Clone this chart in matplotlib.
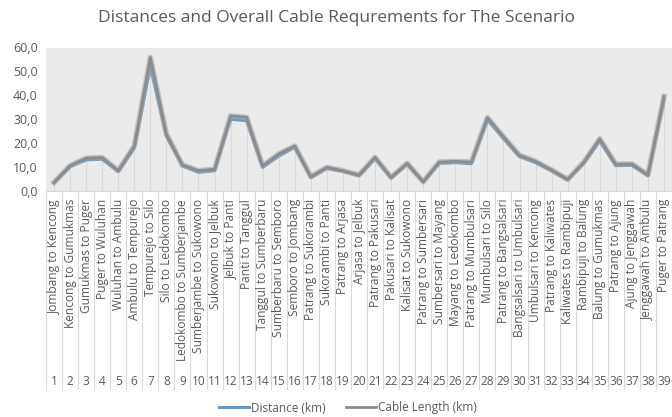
import numpy as np
import matplotlib
matplotlib.use('Agg')
import matplotlib.pyplot as plt
from matplotlib.ticker import FuncFormatter

plt.rcParams['font.family'] = ['Open Sans', 'DejaVu Sans']

routes = [
    "Jombang to Kencong", "Kencong to Gumukmas", "Gumukmas to Puger", "Puger to Wuluhan",
    "Wuluhan to Ambulu", "Ambulu to Tempurejo", "Tempurejo to Silo", "Silo to Ledokombo",
    "Ledokombo to Sumberjambe", "Sumberjambe to Sukowono", "Sukowono to Jelbuk",
    "Jelbuk to Panti", "Panti to Tanggul", "Tanggul to Sumberbaru", "Sumberbaru to Semboro",
    "Semboro to Jombang", "Patrang to Sukorambi", "Sukorambi to Panti", "Patrang to Arjasa",
    "Arjasa to Jelbuk", "Patrang to Pakusari", "Pakusari to Kalisat", "Kalisat to Sukowono",
    "Patrang to Sumbersari", "Sumbersari to Mayang", "Mayang to Ledokombo",
    "Patrang to Mumbulsari", "Mumbulsari to Silo", "Patrang to Bangsalsari",
    "Bangsalsari to Umbulsari", "Umbulsari to Kencong", "Patrang to Kaliwates",
    "Kaliwates to Rambipuji", "Rambipuji to Balung", "Balung to Gumukmas",
    "Patrang to Ajung", "Ajung to Jenggawah", "Jenggawah to Ambulu", "Puger to Patrang",
]
numbers = list(range(1, 40))

distance = [3.4, 10.2, 13.0, 13.3, 8.2, 17.9, 52.0, 23.0, 10.5, 7.8, 8.5, 30.0, 29.4,
            9.9, 14.6, 18.3, 5.6, 9.5, 8.2, 6.4, 13.5, 5.4, 11.2, 3.7, 11.6, 11.9, 11.4,
            29.7, 21.9, 14.4, 11.9, 8.4, 4.6, 11.6, 20.9, 10.6, 10.7, 6.4, 38.1]
cable = [3.6, 10.6, 13.7, 14.0, 8.5, 18.8, 55.8, 23.8, 10.9, 8.5, 9.1, 31.4, 30.8,
         10.5, 15.5, 18.8, 6.0, 9.9, 8.5, 6.7, 14.1, 5.7, 11.6, 3.9, 12.1, 12.4, 12.1,
         30.7, 22.7, 14.9, 12.4, 8.8, 4.9, 12.0, 21.8, 11.2, 11.3, 6.8, 39.5]

W, H = 672, 417
fig = plt.figure(figsize=(W / 100, H / 100), dpi=100)
left, right, top, bottom = 46, 672, 47.5, 191
ax = fig.add_axes([left / W, 1 - bottom / H, (right - left) / W, (bottom - top) / H])

x = np.arange(len(routes))
ax.set_xlim(-0.5, len(routes) - 0.5)
ax.set_ylim(0, 60)

# plot area: light gradient, white at the top
grad = np.linspace(0.925, 1.0, 256)
grad[-int(256 * 0.18):] = 1.0
img = np.dstack([grad, grad, grad])[:, :1, :].repeat(2, axis=1)
ax.imshow(img, extent=[0, 1, 0, 1], transform=ax.transAxes,
          aspect='auto', origin='lower', zorder=0)

ax.vlines(x, 0, cable, color='#d9d9d9', lw=0.8, zorder=1)
ax.plot(x, distance, color='#5b9bd5', lw=2.2, zorder=3, solid_joinstyle='round')
ax.plot(x, cable, color='#a5a5a5', lw=4.0, alpha=0.6, zorder=4, solid_joinstyle='round')
ax.plot(x, cable, color='#8c8c8c', lw=2.0, zorder=5, solid_joinstyle='round')

for s in ['top', 'right', 'left']:
    ax.spines[s].set_visible(False)
ax.spines['bottom'].set_color('#d9d9d9')
ax.set_xticks([])
ax.set_yticks(np.arange(0, 61, 10))
ax.yaxis.set_major_formatter(FuncFormatter(lambda v, p: f"{v:.1f}".replace('.', ',')))
ax.tick_params(axis='y', length=0, labelsize=9, labelcolor='#595959', pad=6)

# two-level category axis
trans = ax.get_xaxis_transform()
ah = bottom - top
for i, (r, n) in enumerate(zip(routes, numbers)):
    ax.text(i, -(199 - bottom) / ah, r, rotation=90, ha='center', va='top',
            fontsize=8.6, color='#595959', transform=trans, clip_on=False)
    ax.text(i, -(381 - bottom) / ah, str(n), ha='center', va='center',
            fontsize=8.6, color='#595959', transform=trans, clip_on=False)
for b in np.arange(-0.5, len(routes), 1.0):
    ax.plot([b, b], [0, -(389 - bottom) / ah], color='#d9d9d9', lw=0.8,
            transform=trans, clip_on=False)

fig.text(0.5, 1 - 18 / H, 'Distances and Overall Cable Requrements for The Scenario',
         ha='center', va='center', fontsize=12.5, color='#595959')

handles = [ax.lines[0], ax.lines[2]]
fig.legend(handles, ['Distance (km)', 'Cable Length (km)'], loc='center',
           bbox_to_anchor=(0.518, 1 - 408 / H), ncol=2, frameon=False, fontsize=8.5,
           labelcolor='#595959', handlelength=2.5, handletextpad=0.2, columnspacing=1.7)

fig.savefig('out.png', dpi=100, facecolor='white')
